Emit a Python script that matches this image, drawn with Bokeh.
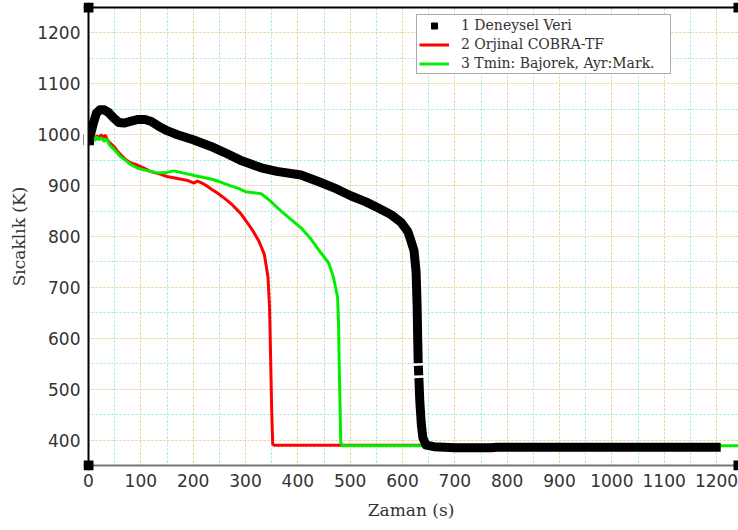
import numpy as np
from bokeh.plotting import figure
from bokeh.models import (Range1d, SingleIntervalTicker, Legend, LegendItem, Span, BoxAnnotation)
from bokeh.embed import file_html
from bokeh.resources import INLINE

nan = float("nan")

# 1 Deneysel Veri (experimental data)
exp_t = [0, 5, 10, 15, 22, 30, 38, 48, 58, 68, 80, 95, 108, 120, 135, 150, 170, 200,
         234, 260, 290, 330, 360, 406, 444, 475, 501, 530, 552, 578, 597, 610, 616,
         622, 626, 628, 629, 630, nan, 630.3, 631, nan, 631.3, 633, 636, 639, 645,
         660, 700, 770, 780, 900, 1000, 1100, 1208]
exp_T = [990, 1005, 1025, 1042, 1049, 1049, 1044, 1033, 1024, 1023, 1026, 1030, 1030,
         1026, 1016, 1008, 1000, 990, 977, 965, 950, 935, 928, 921, 906, 893, 880, 868,
         857, 843, 828, 810, 792, 772, 730, 660, 600, 551, nan, 546, 527, nan, 522, 477,
         430, 404, 390, 387, 385, 385, 386, 386, 386, 386, 386]

# 2 Orjinal COBRA-TF
org_t = [0, 3, 6, 9, 12, 16, 20, 24, 28, 32, 36, 40, 45, 50, 55, 62, 70, 80, 94, 105,
         118, 138, 150, 165, 180, 190, 202, 208, 215, 225, 235, 247, 260, 275, 291, 305,
         316, 326, 336, 343, 346, 348, 350, 352, 355, 450, 600, 800, 1000, 1205]
org_T = [985, 992, 988, 995, 990, 998, 993, 1000, 994, 999, 990, 985, 980, 975, 968,
         960, 952, 945, 940, 935, 928, 922, 918, 915, 912, 910, 905, 909, 906, 900, 893,
         885, 875, 862, 845, 825, 808, 790, 765, 720, 660, 560, 460, 392, 390, 390, 390,
         390, 390, 390]

# 3 Tmin: Bajorek, Ayr:Mark.
mod_t = [0, 4, 8, 12, 16, 20, 25, 30, 35, 40, 45, 52, 60, 70, 80, 94, 110, 132, 150,
         163, 180, 202, 220, 234, 250, 270, 285, 300, 330, 345, 368, 385, 406, 425, 444,
         459, 468, 476, 478, 479, 481, 482, 486, 600, 800, 1000, 1250]
mod_T = [990, 985, 995, 988, 996, 990, 994, 987, 992, 980, 975, 968, 958, 950, 942,
         934, 930, 925, 926, 929, 925, 920, 916, 913, 908, 900, 895, 888, 884, 872, 850,
         835, 817, 795, 768, 748, 720, 680, 620, 549, 450, 395, 389, 389, 389, 389, 389]

labels = ["1 Deneysel Veri", "2 Orjinal COBRA-TF", "3 Tmin: Bajorek, Ayr:Mark."]

x0, x1 = 0, 1242
y0, y1 = 350, 1250

# 5 px margin inside the frame so that the axis-end squares are not clipped
px_x = 650 / (x1 - x0)
px_y = 458 / (y1 - y0)
mx = 5 / px_x
my = 5 / px_y

p = figure(width=738, height=530, output_backend="svg", toolbar_location=None,
           x_range=Range1d(x0 - mx, x1), y_range=Range1d(y0 - my, y1 + my),
           min_border_left=83, min_border_right=0, min_border_top=2,
           min_border_bottom=60)
p.background_fill_color = "white"
p.border_fill_color = "white"
p.outline_line_color = None

for ax in (p.xaxis, p.yaxis):
    ax.ticker = SingleIntervalTicker(interval=100, num_minor_ticks=2)
    ax.major_tick_line_color = None
    ax.minor_tick_line_color = None
    ax.axis_line_color = None
    ax.major_tick_out = 0
    ax.major_tick_in = 0
    ax.minor_tick_out = 0
    ax.minor_tick_in = 0
    ax.major_label_text_font = "DejaVu Sans"
    ax.major_label_text_font_size = "17px"
    ax.major_label_text_color = "#333333"
    ax.axis_label_text_font = "DejaVu Serif"
    ax.axis_label_text_font_size = "17px"
    ax.axis_label_text_font_style = "normal"
    ax.axis_label_text_color = "#333333"
    ax.major_label_standoff = 3

p.xaxis.axis_label_standoff = 10
p.yaxis.axis_label_standoff = 5
p.xaxis.axis_label = "Zaman (s)"
p.yaxis.axis_label = "Sıcaklık (K)"

for g in (p.xgrid, p.ygrid):
    g.grid_line_color = "#FFCC88"
    g.grid_line_dash = "2 2"
    g.grid_line_width = 1
    g.minor_grid_line_color = "#99E6E6"
    g.minor_grid_line_dash = "2 2"
    g.minor_grid_line_width = 1

r_exp = p.line(exp_t, exp_T, line_color="black", line_width=9,
               line_join="round", line_cap="butt")
r_sq = p.scatter([exp_t[0]], [exp_T[0]], marker="square", size=10, color="black")
r_org = p.line(org_t, org_T, line_color="#FF0000", line_width=3)
r_mod = p.line(mod_t, mod_T, line_color="#00EE00", line_width=3)
# keep the experimental curve on top
p.renderers.remove(r_exp)
p.renderers.remove(r_sq)
p.renderers.append(r_exp)
p.renderers.append(r_sq)

# white margins outside the axes
for kw in (dict(right=x0), dict(top=y0), dict(bottom=y1)):
    p.add_layout(BoxAnnotation(fill_color="white", fill_alpha=1, line_color=None,
                               level="annotation", **kw))

# axis lines
p.add_layout(Span(location=x0, dimension="height", line_color="black", line_width=2))
p.add_layout(Span(location=y0, dimension="width", line_color="#777777", line_width=2))
p.add_layout(Span(location=y1, dimension="width", line_color="black", line_width=2))

# axis-end squares (10 px each)
for cx, cy in ((x0, y0), (x0, y1), (x1, y0), (x1, y1)):
    p.add_layout(BoxAnnotation(left=cx - mx, right=cx + mx, bottom=cy - my, top=cy + my,
                               fill_color="black", fill_alpha=1, line_color=None,
                               level="annotation"))

legend = Legend(items=[LegendItem(label=labels[0], renderers=[r_sq]),
                       LegendItem(label=labels[1], renderers=[r_org]),
                       LegendItem(label=labels[2], renderers=[r_mod])],
                location=(333, 396))
legend.label_text_font = "DejaVu Serif"
legend.label_text_font_size = "14px"
legend.label_text_line_height = 1.0
legend.label_text_color = "#333333"
legend.border_line_color = "#555555"
legend.border_line_width = 1.5
legend.background_fill_color = "white"
legend.background_fill_alpha = 1
legend.padding = 2
legend.spacing = 3
legend.glyph_width = 30
legend.glyph_height = 15
legend.label_height = 15
legend.label_width = 207
legend.label_standoff = 12
legend.margin = 0
p.add_layout(legend)

open("out.html", "w").write(file_html(p, INLINE))
